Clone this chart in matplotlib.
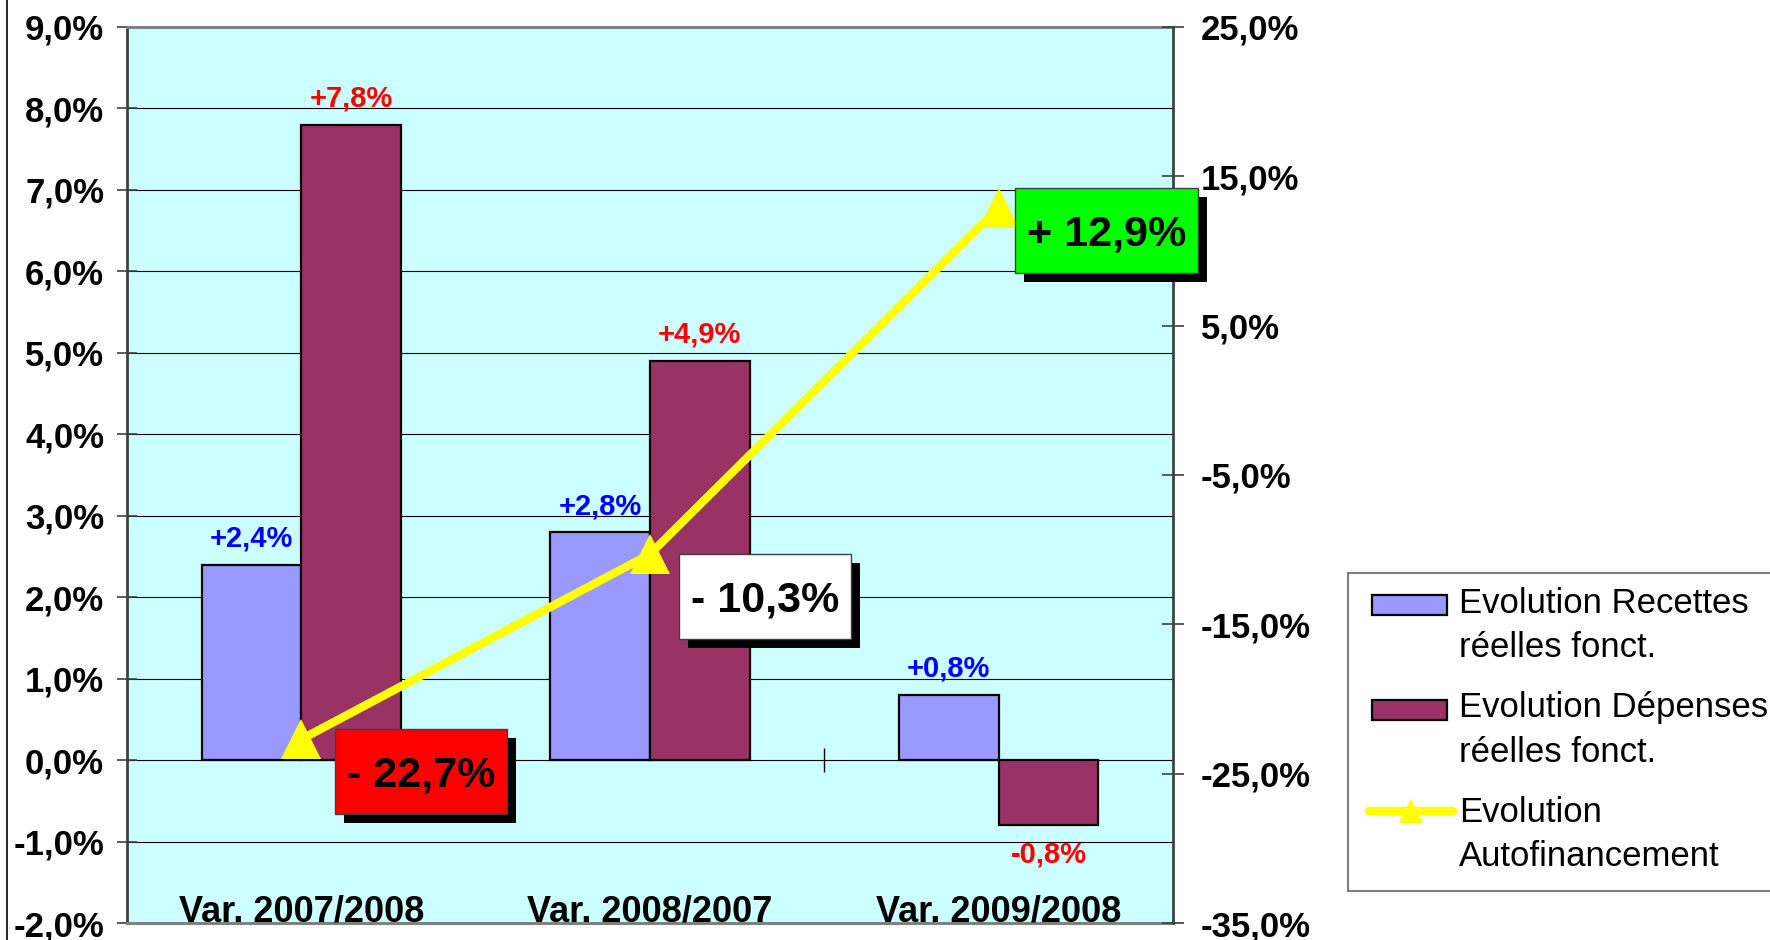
import numpy as np
import matplotlib
matplotlib.use("Agg")
import matplotlib.pyplot as plt
from matplotlib.patches import Rectangle
from matplotlib.lines import Line2D
from matplotlib.transforms import IdentityTransform
from matplotlib.ticker import FuncFormatter, MultipleLocator

plt.rcParams["font.family"] = ["Liberation Sans", "DejaVu Sans"]
plt.rcParams["font.weight"] = "bold"

CATEGORIES = ["Var. 2007/2008", "Var. 2008/2007", "Var. 2009/2008"]
RECETTES = [2.4, 2.8, 0.8]
DEPENSES = [7.8, 4.9, -0.8]
AUTOFIN = [-22.7, -10.3, 12.9]
SERIES_NAMES = [
    ["Evolution Recettes", "réelles fonct."],
    ["Evolution Dépenses", "réelles fonct."],
    ["Evolution", "Autofinancement"],
]
BOX_COLORS = ["#ff0000", "#ffffff", "#00ff00"]

BLUE = "#9999ff"
MAROON = "#993366"
YELLOW = "#ffff00"
BG = "#ccffff"
W, H = 1770, 940

# annotation boxes (pixels): width, height, offset of top-left corner from the point
BOX_W = [172, 172, 183]
BOX_H = 85
BOX_DX = [34, 29, 16]
BOX_DY = [10, 0, 20]
SHADOW = 9


def pct(v, pos=None):
    return f"{v:.1f}%".replace(".", ",")


def signed(v):
    return f"{v:+.1f}%".replace(".", ",")


fig = plt.figure(figsize=(W / 100, H / 100), dpi=100)
ax = fig.add_axes([127 / W, (H - 923) / H, (1173 - 127) / W, (923 - 27) / H])
ax.set_facecolor(BG)
ax2 = ax.twinx()

x = np.arange(len(CATEGORIES))
bw = 1 / 3.5
ax.bar(x - bw / 2, RECETTES, bw, color=BLUE, edgecolor="black", linewidth=1.6, zorder=2)
ax.bar(x + bw / 2, DEPENSES, bw, color=MAROON, edgecolor="black", linewidth=1.6, zorder=2)

# small crossing ticks at the category boundaries on the zero line
ax.plot(x[:-1] + 0.5, np.zeros(len(x) - 1), ls="none", marker="|", ms=17, mew=1,
        color="black", zorder=3)

for xi, v in zip(x, RECETTES):
    ax.annotate(signed(v), (xi - bw / 2, v), xytext=(0, 18 if v >= 0 else -37),
                textcoords="offset pixels", ha="center", va="baseline",
                color="#0000ff", fontsize=21, zorder=4)
for xi, v in zip(x, DEPENSES):
    ax.annotate(signed(v), (xi + bw / 2, v), xytext=(0, 18 if v >= 0 else -37),
                textcoords="offset pixels", ha="center", va="baseline",
                color="#ff0000", fontsize=21, zorder=4)

for xi, cat in zip(x, CATEGORIES):
    ax.text(xi, 2 / 896, cat, transform=ax.get_xaxis_transform(), ha="center",
            va="baseline", fontsize=26, zorder=5)

ax.set_xlim(-0.5, len(x) - 0.5)
ax.set_ylim(-2, 9)
ax.yaxis.set_major_locator(MultipleLocator(1))
ax.yaxis.set_major_formatter(FuncFormatter(pct))
ax.yaxis.grid(True, color="black", linewidth=0.8)
ax.set_axisbelow(True)
ax.tick_params(axis="x", bottom=False, labelbottom=False)
ax.tick_params(axis="y", direction="inout", length=15, width=1.2, color="#404040",
               labelsize=25, pad=9)

ax2.plot(x, AUTOFIN, color=YELLOW, lw=6, marker="^", ms=29, mec=YELLOW, mew=0,
         zorder=3, clip_on=False)
ax2.set_ylim(-35, 25)
ax2.set_yticks(np.arange(-35, 26, 10))
ax2.yaxis.set_major_formatter(FuncFormatter(pct))
ax2.tick_params(axis="y", direction="inout", length=16, width=1.2, color="#404040",
                labelsize=25, pad=12)

for s in ["top", "bottom"]:
    ax.spines[s].set_color("#808080")
    ax.spines[s].set_linewidth(2.2)
    ax2.spines[s].set_visible(False)
ax.spines["left"].set_color("#404040")
ax.spines["left"].set_linewidth(2)
ax.spines["right"].set_visible(False)
ax2.spines["left"].set_visible(False)
ax2.spines["right"].set_color("#404040")
ax2.spines["right"].set_linewidth(2)

# value boxes with drop shadow next to each Autofinancement point
px_tr = IdentityTransform()
for i, v in enumerate(AUTOFIN):
    px, py = ax2.transData.transform((x[i], v))
    left = px + BOX_DX[i]
    bottom = py + BOX_DY[i] - BOX_H
    fig.add_artist(Rectangle((left + SHADOW, bottom - SHADOW), BOX_W[i], BOX_H,
                             transform=px_tr, facecolor="black", edgecolor="none", zorder=10))
    fig.add_artist(Rectangle((left, bottom), BOX_W[i], BOX_H, transform=px_tr,
                             facecolor=BOX_COLORS[i], edgecolor="#404040", lw=1, zorder=11))
    label = ("+ " if v > 0 else "- ") + pct(abs(v))
    fig.text(left + BOX_W[i] / 2, bottom + BOX_H / 2 - 15, label, transform=px_tr,
             ha="center", va="baseline", fontsize=31, zorder=12)

# legend, drawn by hand so the keys line up with the first text line
fig.add_artist(Rectangle((1348, H - 891), 500, 318, transform=px_tr, facecolor="white",
                         edgecolor="#808080", lw=1.5, zorder=10))
handles = [BLUE, MAROON, None]
for k, (lines, col) in enumerate(zip(SERIES_NAMES, handles)):
    base = H - (613 + 104.5 * k)
    if col is not None:
        fig.add_artist(Rectangle((1372, base - 2), 75, 20, transform=px_tr, facecolor=col,
                                 edgecolor="black", lw=1.6, zorder=11))
    else:
        fig.add_artist(Line2D([1369, 1453], [base + 11, base + 11], transform=px_tr,
                              color=YELLOW, lw=6, solid_capstyle="round", zorder=11))
        fig.add_artist(Line2D([1411], [base + 11], transform=px_tr, ls="none", marker="^",
                              ms=17, color=YELLOW, mew=0, zorder=12))
    for j, line in enumerate(lines):
        fig.text(1459, base - 44 * j, line, transform=px_tr, ha="left", va="baseline",
                 fontsize=25, fontweight="normal", zorder=12)

# chart area border on the far left
fig.add_artist(Line2D([7, 7], [0, H], transform=px_tr, color="black", lw=1.2))

fig.savefig("out.png", dpi=100)
